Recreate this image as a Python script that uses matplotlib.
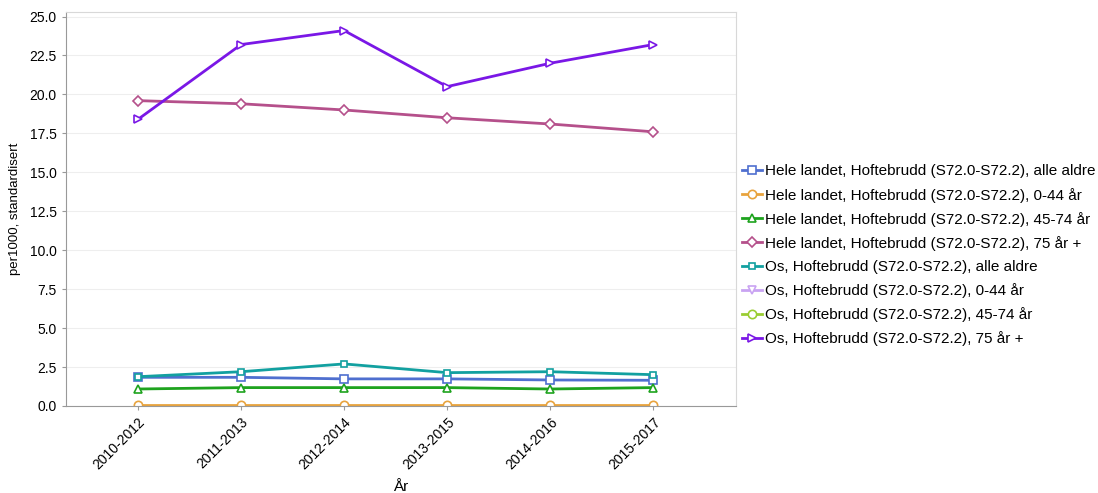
import numpy as np
import matplotlib
matplotlib.use("Agg")
import matplotlib.pyplot as plt

plt.rcParams['font.family'] = ['Liberation Sans', 'DejaVu Sans']

# data
years = ["2010-2012", "2011-2013", "2012-2014", "2013-2015", "2014-2016", "2015-2017"]
hele_alle = [1.84, 1.84, 1.74, 1.74, 1.67, 1.65]
hele_0_44 = [0.04, 0.04, 0.04, 0.04, 0.04, 0.04]
hele_45_74 = [1.09, 1.18, 1.18, 1.18, 1.09, 1.18]
hele_75 = [19.6, 19.4, 19.0, 18.5, 18.1, 17.6]
os_alle = [1.88, 2.2, 2.7, 2.14, 2.2, 2.01]
os_0_44 = [np.nan] * 6
os_45_74 = [np.nan] * 6
os_75 = [18.4, 23.2, 24.1, 20.5, 22.0, 23.2]

series = [
    ("Hele landet, Hoftebrudd (S72.0-S72.2), alle aldre", hele_alle, "#4f6fcf", "s"),
    ("Hele landet, Hoftebrudd (S72.0-S72.2), 0-44 år", hele_0_44, "#e8a33d", "o"),
    ("Hele landet, Hoftebrudd (S72.0-S72.2), 45-74 år", hele_45_74, "#1ea31e", "^"),
    ("Hele landet, Hoftebrudd (S72.0-S72.2), 75 år +", hele_75, "#b5508b", "D"),
    ("Os, Hoftebrudd (S72.0-S72.2), alle aldre", os_alle, "#12a0a0", "s"),
    ("Os, Hoftebrudd (S72.0-S72.2), 0-44 år", os_0_44, "#c9a3f2", "v"),
    ("Os, Hoftebrudd (S72.0-S72.2), 45-74 år", os_45_74, "#9acd32", "o"),
    ("Os, Hoftebrudd (S72.0-S72.2), 75 år +", os_75, "#7a17e6", ">"),
]

fig = plt.figure(figsize=(10.98, 4.93), dpi=100)
ax = fig.add_axes([0.060, 0.1765, 0.610, 0.7995])

x = np.arange(len(years))
for label, vals, col, mk in series:
    ms = 5 if mk == "D" else 6
    if label.startswith("Os") and "alle" in label:
        ms = 5
    ax.plot(x, vals, color=col, lw=2, marker=mk, ms=ms, mfc="white",
            mec=col, mew=1.2, label=label)

ax.set_xlim(-0.7, 5.8)
ax.set_ylim(0, 25.3)
ax.set_yticks(np.arange(0, 25.1, 2.5))
ax.set_yticklabels([f"{v:.1f}" for v in np.arange(0, 25.1, 2.5)], fontsize=10)
ax.set_xticks(x)
ax.set_xticklabels(years, rotation=45, ha="right", rotation_mode="anchor", fontsize=10)
ax.yaxis.grid(True, color="#eeeeee", lw=0.8)
ax.set_axisbelow(True)
ax.tick_params(length=3, color="#999999")

for s in ["top", "right"]:
    ax.spines[s].set_color("#d8d8d8")
for s in ["left", "bottom"]:
    ax.spines[s].set_color("#999999")

ax.set_xlabel("År", fontsize=11, labelpad=6)
ax.set_ylabel("per1000, standardisert", fontsize=9.5, labelpad=6)

ax.legend(loc="center left", bbox_to_anchor=(0.993, 0.382), frameon=False,
          fontsize=11, handlelength=1.3, handletextpad=0.2, labelspacing=0.6,
          borderaxespad=0.3)

fig.savefig("out.png", dpi=100)
